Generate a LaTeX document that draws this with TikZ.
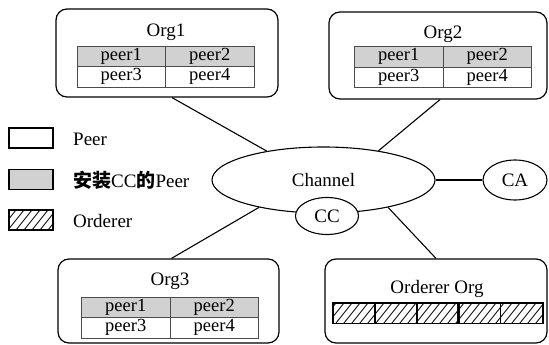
\documentclass[tikz,border=0pt]{standalone}
\usepackage{fontspec}
\setmainfont{Liberation Serif}
\newfontfamily\cjk{Noto Sans CJK SC}
\usetikzlibrary{shapes.geometric}
\tikzset{
  org/.style={draw, line width=1.2pt, rounded corners=11pt, inner sep=0pt},
  ttl/.style={inner sep=0pt, font=\fontsize{19}{21}\selectfont},
  cell/.style={draw=black!70, line width=0.9pt, minimum width=88.5pt, minimum height=20.5pt, inner sep=0pt, font=\fontsize{18.5}{20}\selectfont},
  gcell/.style={cell, fill=black!18},
  ell/.style={draw, ellipse, line width=1.1pt, inner sep=0pt, fill=white, font=\fontsize{19}{21}\selectfont},
  conn/.style={line width=1.1pt},
  legbox/.style={draw, line width=1.1pt, minimum width=44pt, minimum height=20pt, inner sep=0pt},
  legtxt/.style={anchor=west, inner sep=0pt, font=\fontsize{19}{21}\selectfont},
  ocell/.style={draw, line width=0.9pt, minimum width=42pt, minimum height=20pt, inner sep=0pt},
  hatch/.style={line width=0.8pt}
}
\newcommand{\peertab}[3]{%
  \node[gcell] (#1a) at ({#2-44.25},{#3-10.25}) {peer1};
  \node[gcell] (#1b) at ({#2+44.25},{#3-10.25}) {peer2};
  \node[cell] (#1c) at ({#2-44.25},{#3+10.25}) {peer3};
  \node[cell] (#1d) at ({#2+44.25},{#3+10.25}) {peer4};
}
\newcommand{\hatchrect}[4]{%
  \begin{scope}
    \clip (#1,#2) rectangle (#3,#4);
    \foreach \hx in {-24,-16,...,#3}{\draw[hatch] (\hx,#4) -- ++(16,-20);}
  \end{scope}
}
\begin{document}
\begin{tikzpicture}[x=1pt,y=-1pt]
\useasboundingbox (0,0) rectangle (549,345);

% organisations
\node[org, minimum width=222pt, minimum height=88pt] (org1) at (167,53) {};
\node[ttl] (t1) at (166,32) {Org1};
\peertab{pa}{165.5}{66.5}

\node[org, minimum width=218pt, minimum height=87pt] (org2) at (438,55.5) {};
\node[ttl] (t2) at (443,34) {Org2};
\peertab{pb}{443}{67}

\node[org, minimum width=221pt, minimum height=84pt] (org3) at (168.5,301) {};
\node[ttl] (t3) at (170,281) {Org3};
\peertab{pc}{170}{317.5}

\node[org, minimum width=222pt, minimum height=84pt] (oorg) at (436,301) {};
\node[ttl] (t4) at (437,289) {Orderer Org};
\foreach \k/\cx in {1/354,2/396,3/438,4/479,5/521.5}{
  \node[ocell] (oc\k) at (\cx,313) {};
}
\hatchrect{333}{303}{543}{323}
\foreach \k in {1,...,5}{\draw[line width=0.9pt] (oc\k.north west) rectangle (oc\k.south east);}

% channel
\node[ell, minimum width=223pt, minimum height=66pt] (chan) at (323.5,180) {Channel};
\node[ell, minimum width=63pt, minimum height=37pt] (cc) at (327,216) {CC};
\node[ell, minimum width=64pt, minimum height=40pt] (ca) at (515,180) {CA};

% connectors
\draw[conn] ([xshift=5pt]org1.south) -- (chan.153);
\draw[conn] ([xshift=2pt]org2.south) -- (chan.28);
\draw[conn] ([xshift=3pt]org3.north) -- (chan.203);
\draw[conn] (oorg.north) -- (chan.337);
\draw[conn] (chan.east) -- (ca.west);

% legend
\node[legbox] (lg1) at (31,138) {};
\node[legtxt] (lt1) at (73,139) {Peer};
\node[legbox, fill=black!18] (lg2) at (31,179.5) {};
\node[legtxt] (lt2) at (73,180) {{\cjk\bfseries 安装}CC{\cjk\bfseries 的}Peer};
\node[legbox] (lg3) at (31,220) {};
\hatchrect{9}{210}{53}{230}
\draw[line width=1.1pt] (lg3.north west) rectangle (lg3.south east);
\node[legtxt] (lt3) at (73,221) {Orderer};
\end{tikzpicture}
\end{document}
